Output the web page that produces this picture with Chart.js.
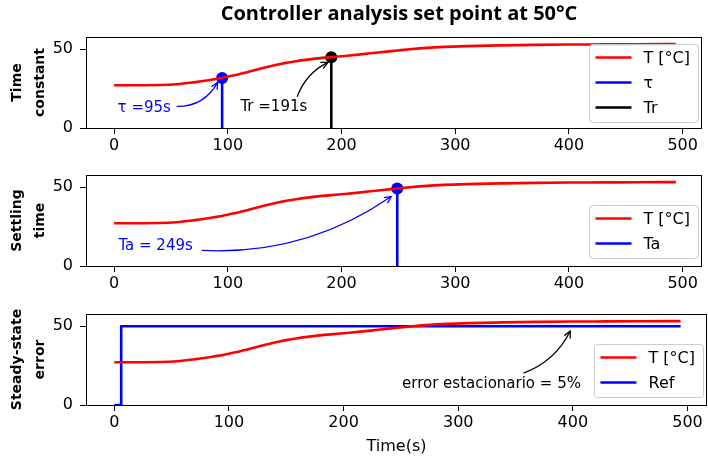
<!DOCTYPE html>
<html><head><meta charset="utf-8">
<script src="https://cdn.jsdelivr.net/npm/chart.js@4"></script>
<style>
html,body{margin:0;padding:0;background:#fff;}
#wrap{position:relative;width:708px;height:458px;overflow:hidden;background:#fff;}
canvas{position:absolute;left:0;top:0;}
#title{position:absolute;left:86px;width:626px;top:2px;line-height:22px;text-align:center;font-family:"Open Sans";font-weight:bold;font-size:20px;color:#000;white-space:nowrap;}
</style></head><body>
<div id="wrap">
<canvas id="c1" width="708" height="458"></canvas>
<canvas id="c2" width="708" height="458"></canvas>
<canvas id="c3" width="708" height="458"></canvas>
<div id="title">Controller analysis set point at 50°C</div>
</div>
<script>
// ---- data ----
const timeS = [0, 20, 40, 55, 70, 80, 90, 95, 100, 110, 120, 130, 140, 150, 160, 175, 191, 200, 215, 230, 249, 260, 275, 290, 310, 340, 370, 400, 430, 460, 494];
const tempC = [27.2, 27.2, 27.3, 27.8, 29.0, 30.0, 31.2, 31.8, 32.6, 34.2, 36.0, 37.9, 39.7, 41.2, 42.4, 43.9, 45.0, 45.6, 46.6, 47.8, 49.2, 50.0, 50.9, 51.5, 52.0, 52.5, 52.8, 53.0, 53.1, 53.2, 53.3];
const refTime = [0, 6, 6, 494];
const refValue = [0, 0, 50, 50];
const tauPoint = [95, 31.8];
const trPoint = [191, 45.0];
const taPoint = [249, 49.2];
const xTicks = [0, 100, 200, 300, 400, 500];
const yTicks = [0, 50];
const xRange = [-24.7, 517];
const yRange = [0, 57.8];

const RED = '#ff0000', BLUE = '#0000ff', BLACK = '#000000';
const pts = (xs, ys) => xs.map((x, i) => ({x: x, y: ys[i]}));
const vline = p => [{x: p[0], y: 0}, {x: p[0], y: p[1]}];

function lineDs(data, color, extra) {
  return Object.assign({data: data, borderColor: color, backgroundColor: color, borderWidth: 2.6,
    pointRadius: 0, fill: false, tension: 0}, extra || {});
}
function dotDs(p, color) {
  return {data: [{x: p[0], y: p[1]}], showLine: false, pointRadius: 6, pointBackgroundColor: color,
    pointBorderColor: color, borderColor: color, backgroundColor: color, pointBorderWidth: 0};
}

function overlay(cfg) {
  return {
    id: 'overlay',
    afterDatasetsDraw(chart) {
      const ctx = chart.ctx, a = chart.chartArea;
      const X = v => chart.scales.x.getPixelForValue(v), Y = v => chart.scales.y.getPixelForValue(v);
      ctx.save();
      // annotations
      (cfg.ann || []).forEach(an => {
        const x1 = X(an.from[0]), y1 = Y(an.from[1]), x2 = X(an.to[0]), y2 = Y(an.to[1]);
        const dx = x2 - x1, dy = y2 - y1;
        const cx = (x1 + x2) / 2 - an.rad * dy, cy = (y1 + y2) / 2 + an.rad * dx;
        ctx.strokeStyle = an.color; ctx.lineWidth = 1.3;
        ctx.beginPath(); ctx.moveTo(x1, y1); ctx.quadraticCurveTo(cx, cy, x2, y2); ctx.stroke();
        const ang = Math.atan2(y2 - cy, x2 - cx), L = 7.5, w = 0.45;
        ctx.beginPath();
        ctx.moveTo(x2 - L * Math.cos(ang - w), y2 - L * Math.sin(ang - w));
        ctx.lineTo(x2, y2);
        ctx.lineTo(x2 - L * Math.cos(ang + w), y2 - L * Math.sin(ang + w));
        ctx.stroke();
        ctx.fillStyle = an.color; ctx.font = '15px "DejaVu Sans"';
        ctx.textAlign = 'center'; ctx.textBaseline = 'middle';
        ctx.fillText(an.text, X(an.at[0]), Y(an.at[1]));
      });
      // legend
      const items = cfg.legend, n = items.length, rowH = 25, padV = 14;
      ctx.font = '16px "DejaVu Sans"';
      const tw = Math.max.apply(null, items.map(it => ctx.measureText(it.label).width));
      const w = 6 + 36 + 12 + tw + 8, h = padV * 2 + (n - 1) * rowH;
      const right = a.right - 4, left = right - w;
      const top = cfg.legendLoc === 'center' ? (a.top + a.bottom) / 2 - h / 2 : a.bottom - 8.5 - h;
      ctx.beginPath();
      ctx.roundRect(Math.round(left) + 0.5, Math.round(top) + 0.5, Math.round(w), Math.round(h), 3);
      ctx.fillStyle = 'rgba(255,255,255,0.8)'; ctx.fill();
      ctx.strokeStyle = '#cccccc'; ctx.lineWidth = 1; ctx.stroke();
      items.forEach((it, i) => {
        const yy = top + padV + i * rowH;
        ctx.strokeStyle = it.color; ctx.lineWidth = 2.6;
        ctx.beginPath(); ctx.moveTo(left + 6, yy); ctx.lineTo(left + 42, yy); ctx.stroke();
        ctx.fillStyle = '#000'; ctx.textAlign = 'left'; ctx.textBaseline = 'middle';
        ctx.fillText(it.label, left + 54, yy + 1);
      });
      // frame
      ctx.strokeStyle = '#000'; ctx.lineWidth = 1;
      ctx.strokeRect(Math.round(a.left) + 0.5, Math.round(a.top) + 0.5, Math.round(a.right - a.left) - 1, Math.round(a.bottom - a.top));
      ctx.restore();
    }
  };
}

function makeChart(id, cfg) {
  const tickFont = {family: 'DejaVu Sans', size: 16};
  return new Chart(document.getElementById(id), {
    type: 'line',
    data: {datasets: cfg.datasets},
    options: {
      responsive: false, animation: false, devicePixelRatio: 1,
      layout: {padding: {top: cfg.top, bottom: 458 - cfg.bottom - cfg.xh, left: 0, right: 1}},
      plugins: {legend: {display: false}, tooltip: {enabled: false}},
      scales: {
        x: {
          type: 'linear', min: xRange[0], max: xRange[1],
          afterBuildTicks: s => { s.ticks = xTicks.map(v => ({value: v})); },
          afterFit: s => { s.height = cfg.xh; },
          grid: {drawOnChartArea: false, drawTicks: true, tickLength: 6, color: '#000', tickWidth: 1},
          border: {display: false},
          ticks: {font: tickFont, color: '#000', padding: 2, maxRotation: 0, autoSkip: false},
          title: cfg.xTitle ? {display: true, text: cfg.xTitle, font: {family: 'DejaVu Sans', size: 16}, color: '#000', padding: {top: 0, bottom: 2}} : {display: false}
        },
        y: {
          type: 'linear', min: yRange[0], max: yRange[1],
          afterBuildTicks: s => { s.ticks = yTicks.map(v => ({value: v})); },
          afterFit: s => { s.width = 86; },
          grid: {drawOnChartArea: false, drawTicks: true, tickLength: 6, color: '#000', tickWidth: 1},
          border: {display: false},
          ticks: {font: tickFont, color: '#000', padding: 7},
          title: {display: true, text: cfg.yTitle, font: {family: 'DejaVu Sans', size: 14, weight: 'bold', lineHeight: 1.7}, color: '#000', padding: {top: 5, bottom: 0}}
        }
      }
    },
    plugins: [overlay(cfg)]
  });
}

const tempData = pts(timeS, tempC);

makeChart('c1', {
  top: 37, bottom: 128, xh: 30, yTitle: ['Time', 'constant'], legendLoc: 'center',
  datasets: [
    lineDs(tempData, RED, {cubicInterpolationMode: 'monotone'}),
    lineDs(vline(tauPoint), BLUE),
    lineDs(vline(trPoint), BLACK),
    dotDs(tauPoint, BLUE),
    dotDs(trPoint, BLACK)
  ],
  legend: [{label: 'T [°C]', color: RED}, {label: 'τ', color: BLUE}, {label: 'Tr', color: BLACK}],
  ann: [
    {text: 'τ =95s', color: BLUE, at: [26.5, 12.7], from: [55, 13.7], to: [91, 29], rad: 0.3},
    {text: 'Tr =191s', color: BLACK, at: [140.5, 13], from: [161, 19.8], to: [188, 41.7], rad: -0.2}
  ]
});

makeChart('c2', {
  top: 175, bottom: 266, xh: 30, yTitle: ['Settling', 'time'], legendLoc: 'lower',
  datasets: [
    lineDs(tempData, RED, {cubicInterpolationMode: 'monotone'}),
    lineDs(vline(taPoint), BLUE),
    dotDs(taPoint, BLUE)
  ],
  legend: [{label: 'T [°C]', color: RED}, {label: 'Ta', color: BLUE}],
  ann: [
    {text: 'Ta = 249s', color: BLUE, at: [36.5, 12.7], from: [77, 9.9], to: [243.7, 44.1], rad: 0.17}
  ]
});

makeChart('c3', {
  top: 314, bottom: 405, xh: 53, yTitle: ['Steady-state', 'error'], legendLoc: 'lower', xTitle: 'Time(s)',
  datasets: [
    lineDs(tempData, RED, {cubicInterpolationMode: 'monotone'}),
    lineDs(pts(refTime, refValue), BLUE)
  ],
  legend: [{label: 'T [°C]', color: RED}, {label: 'Ref', color: BLUE}],
  ann: [
    {text: 'error estacionario = 5%', color: BLACK, at: [329, 13.3], from: [357, 20.3], to: [397.7, 47], rad: 0.2}
  ]
});
</script>
</body></html>
